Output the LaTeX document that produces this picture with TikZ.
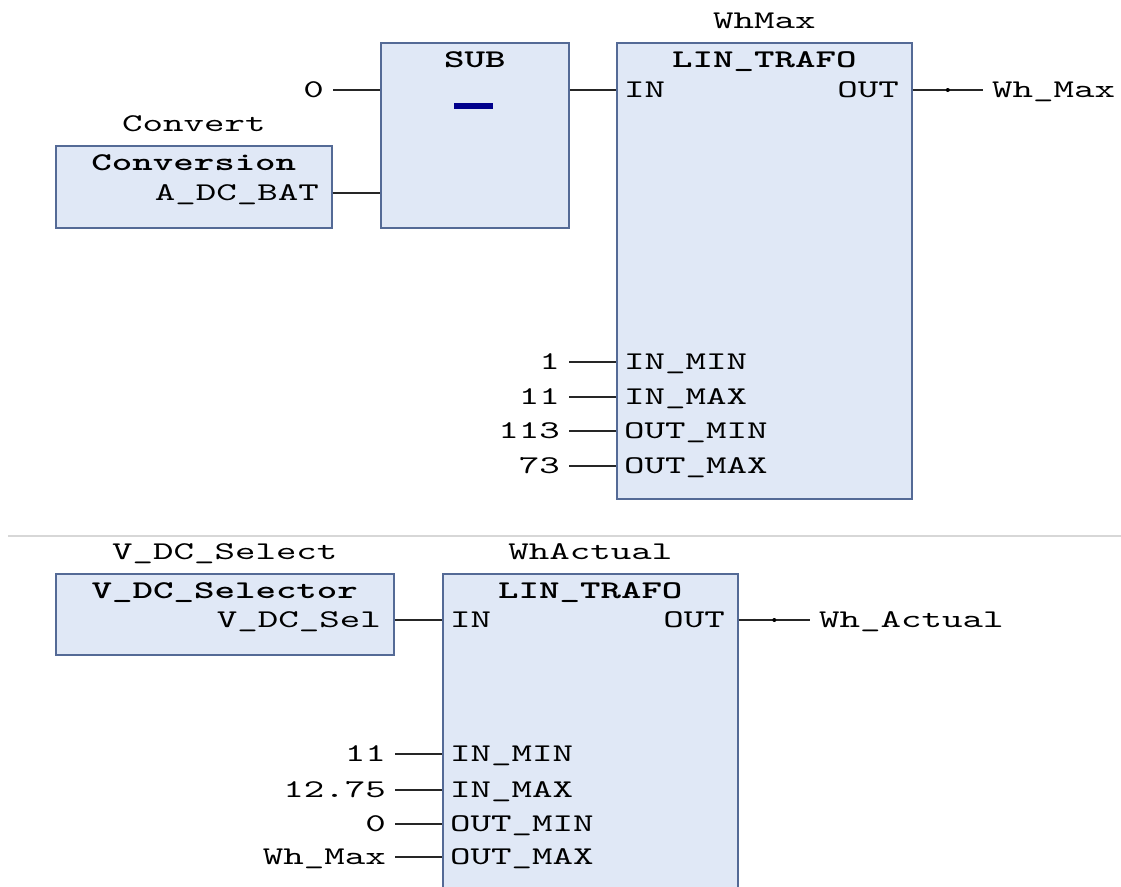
\documentclass[tikz,border=0pt]{standalone}
\usepackage{fontspec}
\newfontfamily\plcfont{lmmono10-regular.otf}[BoldFont=lmmonolt10-bold.otf, FakeStretch=1.53]
\usetikzlibrary{positioning}
\definecolor{fbFill}{RGB}{224,232,246}
\definecolor{fbBorder}{RGB}{84,106,150}
\definecolor{subBlue}{RGB}{0,0,140}
\definecolor{sepGray}{RGB}{215,215,215}

\begin{document}
\begin{tikzpicture}[
    x=1pt, y=-1pt,
    txt/.style={font=\plcfont\fontsize{25.5}{28}\selectfont, inner sep=0pt, text height=15.7pt, text depth=0pt},
    fblock/.style={rectangle, draw=fbBorder, fill=fbFill, line width=1.6pt, anchor=north west},
    fbtitle/.style={txt, font=\plcfont\bfseries\fontsize{25.5}{28}\selectfont},
    instname/.style={txt},
    pinin/.style={txt, anchor=west},
    pinout/.style={txt, anchor=east},
    constval/.style={txt, anchor=east, inner xsep=9pt},
    varout/.style={txt, anchor=west, inner xsep=9pt},
    wire/.style={line width=1.3pt, black!85},
    joint/.style={circle, fill=black, inner sep=0pt, minimum size=4pt}
]
\useasboundingbox (0,0) rectangle (1121,886);

% Upper network: SUB block
\node[fblock, minimum width=188pt, minimum height=185pt] (sub) at (380,42) {};
\node[fbtitle, below=9.5pt of sub.north] (subtitle) {SUB};
\node[fill=subBlue, inner sep=0pt, minimum width=39pt, minimum height=6pt] (subop) at (473,106) {};

% Conversion instance
\node[fblock, minimum width=276pt, minimum height=82pt] (conv) at (55,145) {};
\node[fbtitle, below=9.5pt of conv.north] (convtitle) {Conversion};
\node[instname, above=13pt of conv] (convname) {Convert};
\node[pinout] (convout) at (319,193) {A\_DC\_BAT};

% LIN_TRAFO (WhMax)
\node[fblock, minimum width=295pt, minimum height=456pt] (wmax) at (616,42) {};
\node[fbtitle, below=9.5pt of wmax.north] (wmaxtitle) {LIN\_TRAFO};
\node[instname, above=13pt of wmax] (wmaxname) {WhMax};
\node[pinin] (wmaxin) at (624,90) {IN};
\node[pinout] (wmaxout) at (899,90) {OUT};
\node[pinin] (wmaxinmin) at (624,362) {IN\_MIN};
\node[pinin] (wmaxinmax) at (624,397) {IN\_MAX};
\node[pinin] (wmaxoutmin) at (624,431) {OUT\_MIN};
\node[pinin] (wmaxoutmax) at (624,466) {OUT\_MAX};

% constants and output variable
\node[constval] (c0) at (333,90) {0};
\node[constval] (c1) at (569,362) {1};
\node[constval] (c11) at (569,397) {11};
\node[constval] (c113) at (569,431) {113};
\node[constval] (c73) at (569,466) {73};
\node[varout] (whmaxvar) at (983,90) {Wh\_Max};

% Upper wires
\draw[wire] (c0.east) -- (c0 -| sub.west);
\draw[wire] (conv.east |- convout) -- (convout -| sub.west);
\draw[wire] (sub.east |- wmaxin) -- (wmaxin -| wmax.west);
\draw[wire] (c1.east) -- (c1 -| wmax.west);
\draw[wire] (c11.east) -- (c11 -| wmax.west);
\draw[wire] (c113.east) -- (c113 -| wmax.west);
\draw[wire] (c73.east) -- (c73 -| wmax.west);
\draw[wire] (wmax.east |- wmaxout) -- node[joint] {} (whmaxvar.west);

% Separator between networks
\coordinate (sepl) at (8,536);
\coordinate (sepr) at (1121,536);
\draw[sepGray, line width=1.5pt] (sepl) -- (sepr);

% Lower network: V_DC_Selector instance
\node[fblock, minimum width=338pt, minimum height=81pt] (vdcsel) at (55,573) {};
\node[fbtitle, below=9.5pt of vdcsel.north] (vdcseltitle) {V\_DC\_Selector};
\node[instname, above=13pt of vdcsel] (vdcselname) {V\_DC\_Select};
\node[pinout] (vdcselout) at (381,620) {V\_DC\_Sel};

% LIN_TRAFO (WhActual)
\node[fblock, minimum width=295pt, minimum height=330pt] (whact) at (442,573) {};
\node[fbtitle, below=9.5pt of whact.north] (whacttitle) {LIN\_TRAFO};
\node[instname, above=13pt of whact] (whactname) {WhActual};
\node[pinin] (whactin) at (450,620) {IN};
\node[pinout] (whactout) at (725,620) {OUT};
\node[pinin] (whactinmin) at (450,754) {IN\_MIN};
\node[pinin] (whactinmax) at (450,790) {IN\_MAX};
\node[pinin] (whactoutmin) at (450,824) {OUT\_MIN};
\node[pinin] (whactoutmax) at (450,857) {OUT\_MAX};

\node[constval] (d11) at (395,754) {11};
\node[constval] (d1275) at (395,790) {12.75};
\node[constval] (d0) at (395,824) {0};
\node[constval] (dwhmax) at (395,857) {Wh\_Max};
\node[varout] (whactvar) at (810,620) {Wh\_Actual};

% Lower wires
\draw[wire] (vdcsel.east |- vdcselout) -- (vdcselout -| whact.west);
\draw[wire] (d11.east) -- (d11 -| whact.west);
\draw[wire] (d1275.east) -- (d1275 -| whact.west);
\draw[wire] (d0.east) -- (d0 -| whact.west);
\draw[wire] (dwhmax.east) -- (dwhmax -| whact.west);
\draw[wire] (whact.east |- whactout) -- node[joint] {} (whactvar.west);

\end{tikzpicture}
\end{document}
